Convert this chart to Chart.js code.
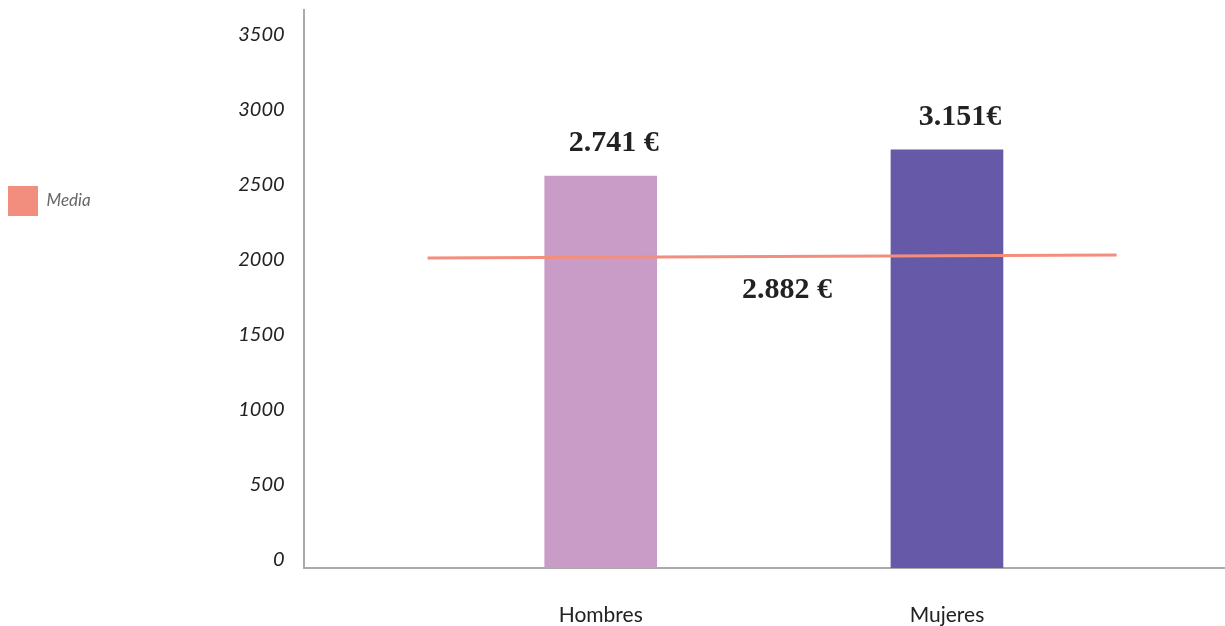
<!DOCTYPE html>
<html>
<head>
<meta charset="utf-8">
<script src="https://cdn.jsdelivr.net/npm/chart.js@4"></script>
<style>
  html, body { margin: 0; padding: 0; background: #fff; }
  #wrap { width: 1225px; height: 626px; }
</style>
</head>
<body>
<div id="wrap"><canvas id="salarioChart"></canvas></div>
<script>
// categorias y valores
let categories = ['Hombres', 'Mujeres'];
let barValues = [2613, 2787];
let barLabels = ['2.741 €', '3.151€'];
let barColors = ['#c99bc7', '#6659a7'];

let mediaName = 'Media';
let mediaX = [-0.5, 1.49];
let mediaValues = [2067, 2087];
let mediaLabel = '2.882 €';
let mediaColor = '#f28e7e';

let yTicks = [0, 500, 1000, 1500, 2000, 2500, 3000, 3500];

let barData = categories.map((c, i) => ({x: i, y: barValues[i]}));
let mediaData = mediaX.map((x, i) => ({x: x, y: mediaValues[i]}));

// etiquetas de valor en serif negrita
const valueLabels = {
    id: 'valueLabels',
    afterDatasetsDraw(chart) {
        let ctx = chart.ctx;
        ctx.save();
        ctx.font = 'bold 30px "Liberation Serif", serif';
        ctx.fillStyle = '#222';
        ctx.textAlign = 'center';
        ctx.textBaseline = 'middle';
        let bars = chart.getDatasetMeta(0).data;
        bars.forEach((bar, i) => {
            ctx.fillText(barLabels[i], bar.x + 13, bar.y - 33);
        });
        let pts = chart.getDatasetMeta(1).data;
        let midX = (pts[0].x + pts[1].x) / 2;
        let midY = (pts[0].y + pts[1].y) / 2;
        ctx.fillText(mediaLabel, midX + 15, midY + 34);
        ctx.restore();
    }
};

let ctx = document.getElementById('salarioChart').getContext('2d');
let salarioChart = new Chart(ctx, {
    data: {
        datasets: [{
            type: 'bar',
            label: 'Salario',
            data: barData,
            backgroundColor: barColors,
            barThickness: 112,
            order: 2
        }, {
            type: 'line',
            label: mediaName,
            data: mediaData,
            borderColor: mediaColor,
            backgroundColor: mediaColor,
            borderWidth: 3,
            pointRadius: 0,
            tension: 0,
            order: 1
        }]
    },
    options: {
        responsive: true,
        maintainAspectRatio: false,
        animation: false,
        layout: { padding: { top: 10, right: 0, bottom: 0, left: 0 } },
        plugins: {
            tooltip: { enabled: false },
            legend: {
                position: 'left',
                align: 'start',
                title: { display: true, text: ' ', padding: { top: 156, bottom: 0 }, font: { size: 10 } },
                labels: {
                    boxWidth: 30,
                    boxHeight: 30,
                    padding: 8,
                    color: '#333',
                    font: { family: 'Lato', style: 'italic', size: 17 },
                    generateLabels: chart => [{
                        text: mediaName,
                        fillStyle: mediaColor,
                        strokeStyle: mediaColor,
                        lineWidth: 0,
                        datasetIndex: 1
                    }]
                }
            }
        },
        scales: {
            x: {
                type: 'linear',
                offset: false,
                min: -0.858,
                max: 1.803,
                grid: { display: false, drawTicks: false, offset: false },
                border: { color: '#aaaaaa', width: 2 },
                afterFit: axis => {
                    axis.height = 58;
                    axis.paddingLeft = 0;
                    axis.paddingRight = 0;
                },
                afterBuildTicks: axis => {
                    axis.ticks = categories.map((c, i) => ({value: i}));
                },
                ticks: {
                    padding: 35,
                    color: '#222',
                    font: { family: 'Lato', size: 21 },
                    callback: v => categories[v]
                }
            },
            y: {
                min: 0,
                max: 3720,
                grid: { display: false, drawTicks: false },
                border: { color: '#aaaaaa', width: 2 },
                afterFit: axis => {
                    axis.width = 203;
                    axis.paddingTop = 0;
                    axis.paddingBottom = 0;
                },
                afterBuildTicks: axis => {
                    axis.ticks = yTicks.map(v => ({value: v}));
                },
                ticks: {
                    padding: 19,
                    labelOffset: -8,
                    color: '#222',
                    font: { family: 'Lato', style: 'italic', size: 20 },
                    callback: v => String(v)
                }
            }
        }
    },
    plugins: [valueLabels]
});
</script>
</body>
</html>
